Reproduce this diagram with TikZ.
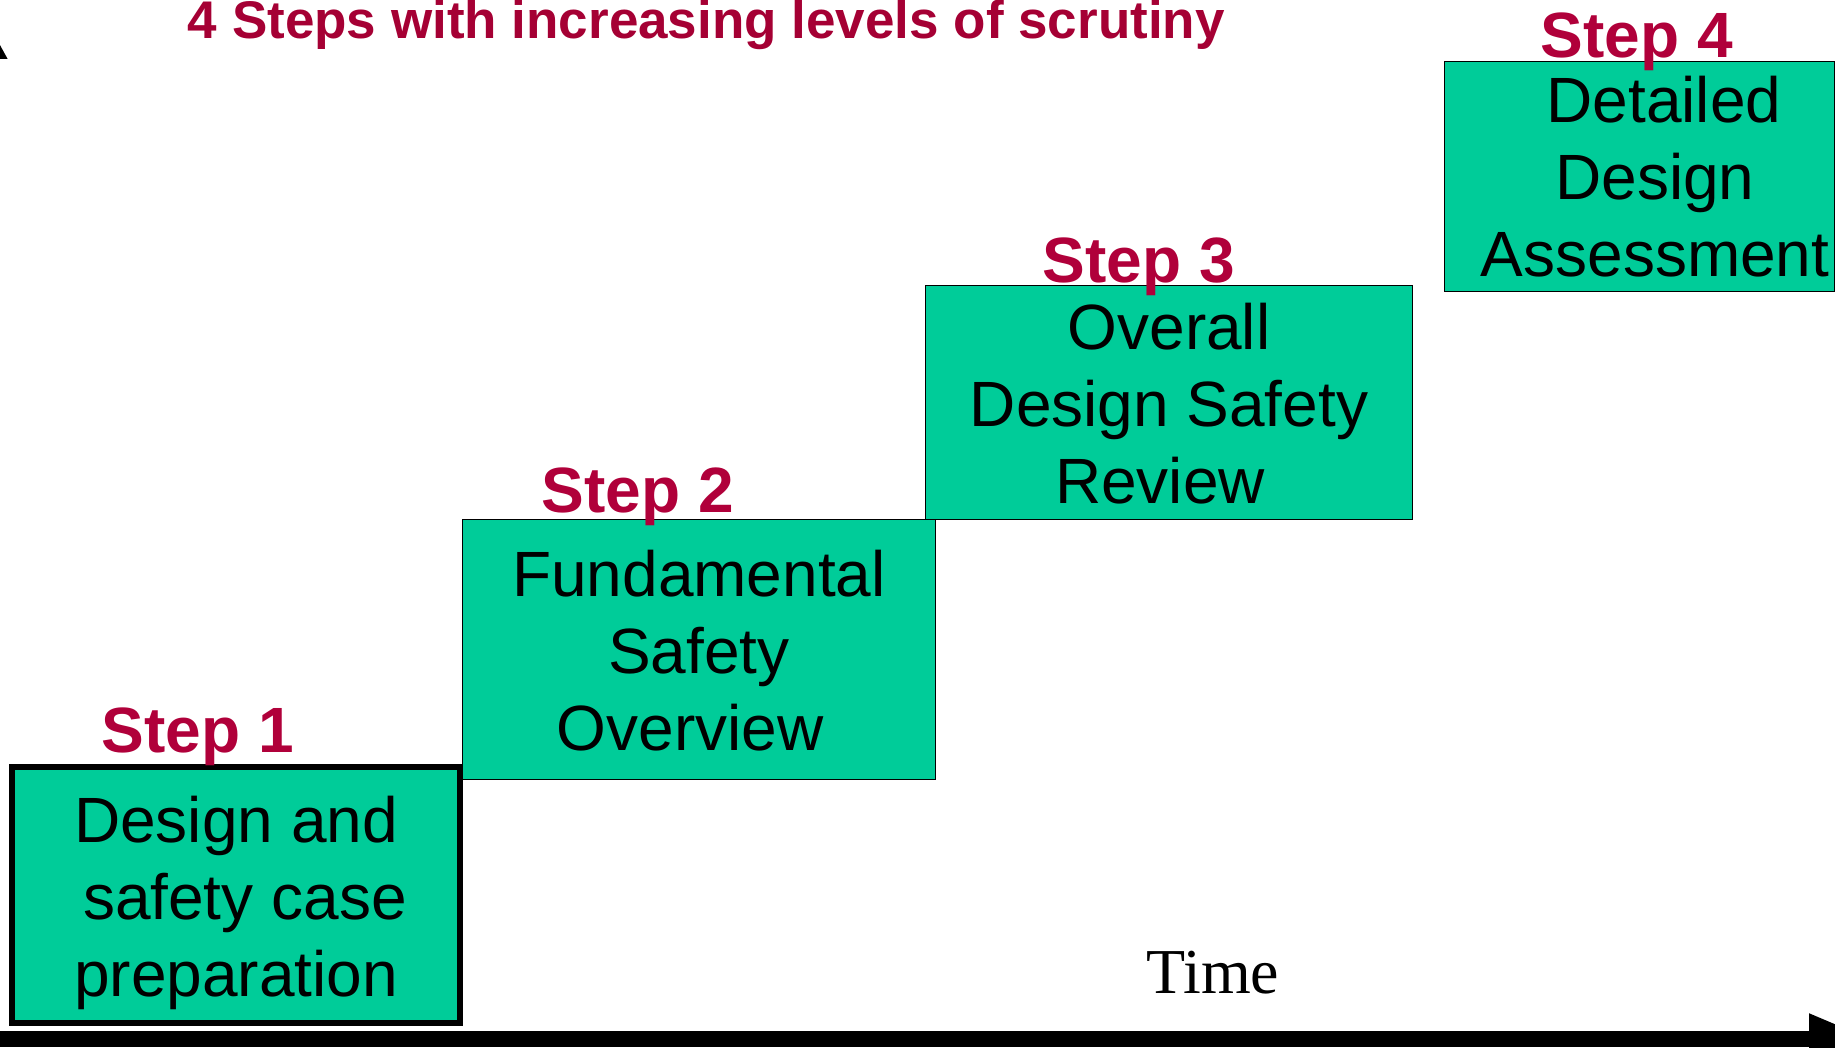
\documentclass[tikz,border=0pt]{standalone}
\usepackage{fontspec}
\setmainfont{Liberation Sans}
\newfontfamily\timesfont{Liberation Serif}
\usetikzlibrary{arrows.meta}
\definecolor{boxgreen}{HTML}{00CC99}
\definecolor{titlered}{RGB}{165,0,52}
\definecolor{stepred}{RGB}{176,0,58}
\newcommand\tstr{\rule{0pt}{31pt}}
\newcommand\bstr{\rule[-6.8pt]{0pt}{6.8pt}}
\newcommand\wsp{\hbox to 0.278em{}}
\begin{document}
\begin{tikzpicture}[x=0.5pt,y=-0.5pt,
  boxfont/.style={font=\fontsize{32pt}{38.5pt}\selectfont},
  stepbox/.style={draw=black, fill=boxgreen, line width=0.75pt, inner sep=0pt, align=center, boxfont},
  steplbl/.style={anchor=base west, inner sep=0pt, text=stepred, font=\fontsize{32pt}{38.4pt}\selectfont\bfseries},
  axisline/.style={line width=8pt, draw=black}]
\useasboundingbox (0,0) rectangle (1835,1048);
\clip (0,0) rectangle (1835,1048);
% boxes
\node[stepbox, minimum width=236.5pt, minimum height=130pt] (b2) at (699,649.5) {\tstr Fundamental\\Safety\\Overview\wsp\bstr};
\node[stepbox, minimum width=243.5pt, minimum height=117pt] (b3) at (1169,402.5) {\tstr Overall\\Design Safety\\Review\wsp\bstr};
\node[stepbox, minimum width=195pt, minimum height=115pt] (b4) at (1639.5,176.5) {};
\node[align=center, inner sep=0pt, boxfont] (b4text) at (1655,175.8) {\tstr\wsp Detailed\\Design\\Assessment\bstr};
\node[stepbox, line width=3pt, minimum width=224pt, minimum height=128pt] (b1) at (236,895) {\tstr Design and\\\wsp safety case\\preparation\bstr};
% labels
\node[steplbl, text=titlered, font=\fontsize{26.5pt}{32pt}\selectfont\bfseries] (title) at (187.5,38.5) {4 Steps with increasing levels of scrutiny};
\node[steplbl] (s1) at (101.5,752) {Step 1};
\node[steplbl] (s2) at (541.5,512) {Step 2};
\node[steplbl] (s3) at (1042.5,282) {Step 3};
\node[steplbl] (s4) at (1540.5,58) {Step 4};
\node[anchor=base west, inner sep=0pt, font=\timesfont\fontsize{32pt}{38pt}\selectfont] (time) at (1146,993) {Time};
% axes
\coordinate (origin) at (-15,1039);
\coordinate (xend) at (1873,1039);
\coordinate (yend) at (-15,17);
\draw[axisline, -{Triangle[length=32pt,width=23pt]}] (origin) -- (xend);
\draw[axisline, -{Triangle[length=21pt,width=21pt]}] (origin) -- (yend);
\end{tikzpicture}
\end{document}
